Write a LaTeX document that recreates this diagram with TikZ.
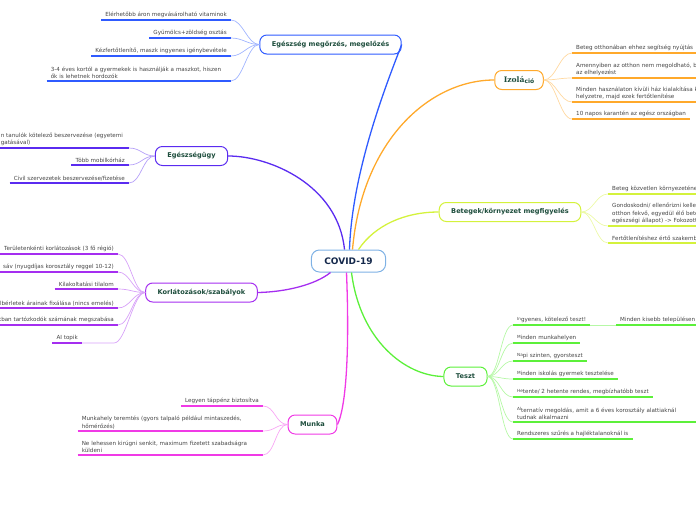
\documentclass[tikz,border=0pt]{standalone}
\usepackage{fontspec}
\setmainfont{DejaVu Sans}
\newfontfamily\izofont{DejaVu Serif}
\usetikzlibrary{positioning}

\definecolor{covidC}{HTML}{7FB2E5}
\definecolor{covidT}{HTML}{14284B}
\definecolor{blueC}{HTML}{2F5BFF}
\definecolor{orangeC}{HTML}{FFA92B}
\definecolor{limeC}{HTML}{D4F23C}
\definecolor{violetC}{HTML}{5A2BF0}
\definecolor{purpleC}{HTML}{A52EF0}
\definecolor{greenC}{HTML}{5CF03A}
\definecolor{magentaC}{HTML}{F03AE6}
\definecolor{topicT}{HTML}{1D4D3C}
\definecolor{leafT}{HTML}{444444}

% small raised first letters, as the map prints them
\newcommand\firstlet[1]{\raisebox{1.4pt}{\fontsize{4.2}{4.5}\selectfont #1}}

\begin{document}
\begin{tikzpicture}[x=1pt,y=1pt,
  centre/.style={draw=covidC,line width=1pt,rounded corners=8pt,fill=white,
    font=\fontsize{9}{10}\selectfont\bfseries,text=covidT,inner xsep=13pt,minimum height=22pt},
  topic/.style={draw=#1,line width=1pt,rounded corners=7pt,fill=white,
    font=\fontsize{6.6}{8}\selectfont\bfseries,text=topicT,inner xsep=12pt,minimum height=19pt},
  leafL/.style={font=\fontsize{5.6}{7.6}\selectfont,text=leafT,inner xsep=4pt,inner ysep=2pt,
    anchor=south east,
    append after command={(\tikzlastnode.south west) edge[draw=#1,line width=1.6pt] (\tikzlastnode.south east)}},
  leafR/.style={font=\fontsize{5.6}{7.6}\selectfont,text=leafT,inner xsep=4pt,inner ysep=2pt,
    anchor=south west,
    append after command={(\tikzlastnode.south west) edge[draw=#1,line width=1.6pt] (\tikzlastnode.south east)}},
  branch/.style={draw=#1,line width=1.3pt},
  twig/.style={draw=#1!45,line width=0.7pt}]
\useasboundingbox (0,0) rectangle (696,-520);
\clip (0,0) rectangle (696,-520);

% centre and topics
\node[centre] (covid) at (348.5,-261) {COVID-19};
\node[topic=blueC] (egm) at (330.5,-44.5) {Egészség megőrzés, megelőzés};
\node[topic=orangeC,inner xsep=9pt] (izo) at (519,-80) {{\izofont\bfseries\fontsize{7.6}{8}\selectfont Izolá}\raisebox{-1pt}{\fontsize{6}{6}\selectfont ció}};
\node[topic=limeC] (bet) at (510,-212) {Betegek/környezet megfigyelés};
\node[topic=violetC] (eu) at (191.5,-156) {Egészségügy};
\node[topic=purpleC] (kor) at (201.5,-292.5) {Korlátozások/szabályok};
\node[topic=greenC] (tes) at (465.5,-376.5) {Teszt};
\node[topic=magentaC] (mun) at (312.5,-424.5) {Munka};

\draw[branch=blueC] ([xshift=1pt]covid.north) .. controls (352,-170) and (388,-80) .. (egm.east);
\draw[branch=orangeC] ([xshift=4pt]covid.north) .. controls (362,-140) and (430,-80) .. (izo.west);
\draw[branch=limeC] ([xshift=10pt]covid.north) .. controls (375,-225) and (405,-212) .. (bet.west);
\draw[branch=violetC] ([xshift=-4pt]covid.north) .. controls (338,-185) and (270,-156) .. (eu.east);
\draw[branch=purpleC] ([xshift=-18pt]covid.south) .. controls (315,-285) and (285,-292) .. (kor.east);
\draw[branch=greenC] ([xshift=3pt]covid.south) .. controls (360,-340) and (405,-376) .. (tes.west);
\draw[branch=magentaC] ([xshift=-2pt]covid.south) .. controls (350,-360) and (345,-410) .. (mun.east);

% Egeszseg megorzes
\node[leafL=blueC] (egm1) at (231,-20) {Elérhetőbb áron megvásárolható vitaminok};
\node[leafL=blueC] (egm2) at (231,-38) {Gyümölcs+zöldség osztás};
\node[leafL=blueC] (egm3) at (231,-56) {Kézfertőtlenítő, maszk ingyenes igénybevétele};
\node[leafL=blueC,text width=176pt,align=left] (egm4) at (231,-81) {3-4 éves kortól a gyermekek is használják a maszkot, hiszen\\ők is lehetnek hordozók};
\foreach \l in {egm1,egm2,egm3,egm4}
  \draw[twig=blueC] (egm.west) .. controls +(-12,0) and +(12,0) .. (\l.south east);

% Izolacio
\node[leafR=orangeC] (izo1) at (572,-53) {Beteg otthonában ehhez segítség nyújtás};
\node[leafR=orangeC,text width=160pt,align=left] (izo2) at (572,-78) {Amennyiben az otthon nem megoldható, bi\\az elhelyezést};
\node[leafR=orangeC,text width=160pt,align=left] (izo3) at (572,-102) {Minden használaton kívüli ház kialakítása k\\helyzetre, majd ezek fertőtlenítése};
\node[leafR=orangeC] (izo4) at (572,-119) {10 napos karantén az egész országban};
\foreach \l in {izo1,izo2,izo3,izo4}
  \draw[twig=orangeC] (izo.east) .. controls +(12,0) and +(-12,0) .. (\l.south west);

% Betegek
\node[leafR=limeC,text width=120pt,align=left] (bet1) at (608,-194) {Beteg közvetlen környezeténe};
\node[leafR=limeC,text width=120pt,align=left] (bet2) at (608,-226) {Gondoskodni/ ellenőrizni kelle\\otthon fekvő, egyedül élő bete\\egészségi állapot) -> Fokozott};
\node[leafR=limeC,text width=120pt,align=left] (bet3) at (608,-243) {Fertőtlenítéshez értő szakemb};
\foreach \l in {bet1,bet2,bet3}
  \draw[twig=limeC] (bet.east) .. controls +(12,0) and +(-12,0) .. (\l.south west);

% Egeszsegugy
\node[leafL=violetC,text width=124pt,align=left] (eu1) at (129,-148) {n tanulók kötelező beszervezése (egyetemi\\gatásával)};
\node[leafL=violetC] (eu2) at (129,-165) {Több mobilkórház};
\node[leafL=violetC] (eu3) at (129,-183) {Civil szervezetek beszervezése/fizetése};
\foreach \l in {eu1,eu2,eu3}
  \draw[twig=violetC] (eu.west) .. controls +(-12,0) and +(12,0) .. (\l.south east);

% Korlatozasok
\node[leafL=purpleC] (kor1) at (118,-254) {Területenkénti korlátozások (3 fő régió)};
\node[leafL=purpleC] (kor2) at (118,-272) {sáv (nyugdíjas korosztály reggel 10-12)};
\node[leafL=purpleC] (kor3) at (118,-289) {Kilakoltatási tilalom};
\node[leafL=purpleC] (kor4) at (118,-308) {lbérletek árainak fixálása (nincs emelés)};
\node[leafL=purpleC] (kor5) at (118,-325) {tban tartózkodók számának megszabása};
\node[leafL=purpleC] (kor6) at (82,-343) {AI topik};
\coordinate (kor6j) at (114,-343);
\foreach \l in {kor1,kor2,kor3,kor4,kor5}
  \draw[twig=purpleC] (kor.west) .. controls +(-12,0) and +(12,0) .. (\l.south east);
\draw[twig=purpleC] (kor.west) .. controls +(-12,0) and +(12,0) .. (kor6j) -- (kor6.south east);

% Teszt
\node[leafR=greenC] (tes1) at (513,-325) {\firstlet{In}gyenes, kötelező teszt!};
\node[leafR=greenC] (tes1a) at (616,-325) {Minden kisebb településen i};
\node[leafR=greenC] (tes2) at (513,-343) {\firstlet{M}inden munkahelyen};
\node[leafR=greenC] (tes3) at (513,-361) {\firstlet{Na}pi szinten, gyorsteszt};
\node[leafR=greenC] (tes4) at (513,-379) {\firstlet{M}inden iskolás gyermek tesztelése};
\node[leafR=greenC] (tes5) at (513,-397) {\firstlet{He}tente/ 2 hetente rendes, megbízhatóbb teszt};
\node[leafR=greenC,text width=184pt,align=left] (tes6) at (513,-422) {\firstlet{Al}ternatív megoldás, amit a 6 éves korosztály alattiaknál\\tudnak alkalmazni};
\node[leafR=greenC] (tes7) at (513,-439) {Rendszeres szűrés a hajléktalanoknál is};
\foreach \l in {tes1,tes2,tes3,tes4,tes5,tes6,tes7}
  \draw[twig=greenC] (tes.east) .. controls +(12,0) and +(-12,0) .. (\l.south west);
\draw[twig=greenC] (tes1.south east) -- (tes1a.south west);

% Munka
\node[leafL=magentaC] (mun1) at (263,-406) {Legyen táppénz biztosítva};
\node[leafL=magentaC,text width=177pt,align=left] (mun2) at (263,-431) {Munkahely teremtés (gyors talpaló például mintaszedés,\\hőmérőzés)};
\node[leafL=magentaC,text width=177pt,align=left] (mun3) at (263,-455) {Ne lehessen kirúgni senkit, maximum fizetett szabadságra\\küldeni};
\foreach \l in {mun1,mun2,mun3}
  \draw[twig=magentaC] (mun.west) .. controls +(-12,0) and +(12,0) .. (\l.south east);
\end{tikzpicture}
\end{document}
